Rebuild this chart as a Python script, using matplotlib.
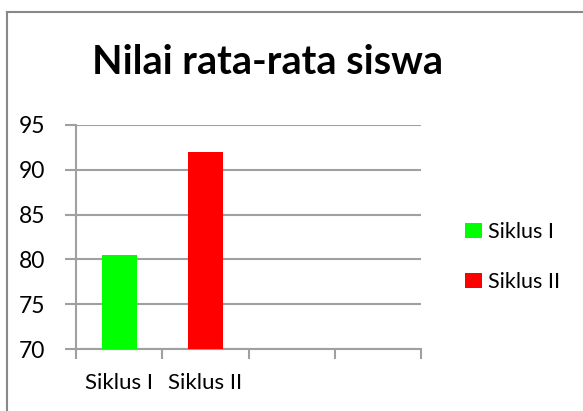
import matplotlib
matplotlib.use("Agg")
import matplotlib.pyplot as plt
from matplotlib.lines import Line2D

title = "Nilai rata-rata siswa"
categories = ["Siklus I", "Siklus II", "", ""]
series_names = ["Siklus I", "Siklus II"]
series_values = [80.5, 92.0]
series_colors = ["#00ff00", "#ff0000"]
y_ticks = [70, 75, 80, 85, 90, 95]

plt.rcParams["font.family"] = ["Lato", "DejaVu Sans"]

fig = plt.figure(figsize=(5.83, 4.11), dpi=100)
W, H = 583, 411
ax = fig.add_axes([76 / W, 1 - 349.3 / H, (421 - 76) / W, (349.3 - 124.7) / H])

grid_c = "#a0a0a0"
for i, (name, val, col) in enumerate(zip(series_names, series_values, series_colors)):
    ax.bar(i + 0.5, val - 70, bottom=70, width=0.405, color=col, label=name, zorder=3)

ax.set_xlim(0, len(categories))
ax.set_ylim(70, 95)
ax.set_yticks(y_ticks)
ax.set_yticklabels([str(t) for t in y_ticks], fontsize=16.5)
ax.yaxis.grid(True, color=grid_c, linewidth=1.5, zorder=0)
ax.set_xticks(range(len(categories) + 1))
ax.set_xticklabels([])
ax.set_xticks([i + 0.5 for i in range(len(categories))], minor=True)
ax.set_xticklabels(categories, minor=True, fontsize=16)
ax.tick_params(axis="x", which="minor", length=0, pad=17)
ax.tick_params(axis="x", which="major", length=7, width=1.5, color=grid_c)
ax.tick_params(axis="y", length=8, width=1.5, color=grid_c, pad=14)
for s in ["top", "right"]:
    ax.spines[s].set_visible(False)
for s in ["left", "bottom"]:
    ax.spines[s].set_color(grid_c)
    ax.spines[s].set_linewidth(1.5)

fig.text(268 / W, 1 - 63 / H, title, ha="center", va="center",
         fontsize=28.5, fontweight="bold")

leg = fig.legend(loc="center left", bbox_to_anchor=(446 / W, 1 - 257 / H),
                 frameon=False, fontsize=15.5, handlelength=0.75, handleheight=0.75,
                 handletextpad=0.3, labelspacing=1.4)

# chart border (only top and left are inside the picture)
fig.add_artist(Line2D([7 / W, 1.0], [1 - 12 / H, 1 - 12 / H], color="#888888", lw=1.5,
                      transform=fig.transFigure))
fig.add_artist(Line2D([7 / W, 7 / W], [0, 1 - 12 / H], color="#888888", lw=1.5,
                      transform=fig.transFigure))

fig.savefig("out.png", dpi=100)
